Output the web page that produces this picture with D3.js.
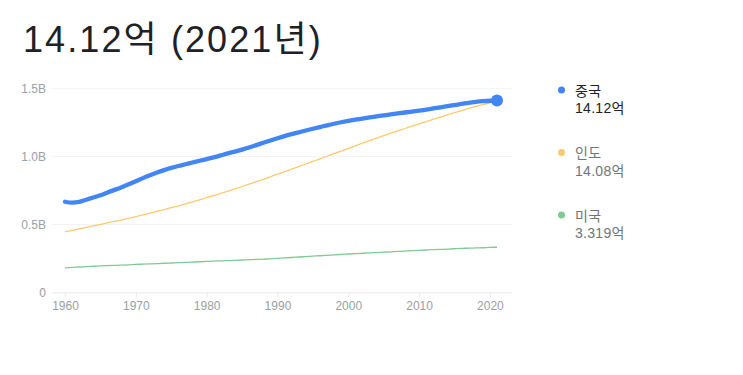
<!DOCTYPE html>
<html><head><meta charset="utf-8">
<script src="https://cdn.jsdelivr.net/npm/d3@7"></script>
<style>
body{margin:0;background:#fff;}
svg{display:block;font-family:Arial,"Liberation Sans","Noto Sans CJK KR",sans-serif;}
</style></head>
<body><svg id="c" width="743" height="375"></svg>
<script>
const years = d3.range(1960, 2022);
const china = [667.07,660.33,665.77,682.34,698.36,715.19,735.40,754.55,774.51,796.03,818.32,841.11,862.03,881.94,900.35,916.40,930.69,943.46,956.17,969.01,981.24,993.89,1008.63,1023.31,1036.83,1051.04,1066.79,1084.04,1101.63,1118.65,1135.19,1150.78,1164.97,1178.44,1191.84,1204.86,1217.55,1230.08,1241.94,1252.74,1262.65,1271.85,1280.40,1288.40,1296.08,1303.72,1311.02,1317.89,1324.66,1331.26,1337.71,1345.04,1354.19,1363.24,1371.86,1379.86,1387.79,1396.22,1402.76,1407.75,1411.10,1412.36];
const india = [445.95,456.35,467.02,477.93,489.06,500.11,510.99,521.99,533.43,545.31,557.50,569.99,582.84,596.11,609.72,623.52,637.45,651.69,666.27,681.25,696.83,712.87,729.17,745.72,762.51,779.48,797.00,814.80,832.70,851.20,870.45,888.94,907.57,926.35,945.26,964.28,983.28,1002.34,1021.43,1040.50,1059.63,1078.97,1098.31,1117.42,1136.26,1154.64,1172.37,1189.69,1206.73,1223.64,1240.61,1257.62,1274.49,1291.13,1307.25,1322.87,1338.64,1354.20,1369.00,1383.11,1396.39,1407.56];
const usa = [180.67,183.69,186.54,189.24,191.89,194.30,196.56,198.71,200.71,202.68,205.05,207.66,209.90,211.91,213.85,215.97,218.04,220.24,222.59,225.06,227.23,229.47,231.66,233.79,235.82,237.92,240.13,242.29,244.50,246.82,249.62,252.98,256.51,259.92,263.13,266.28,269.39,272.66,275.85,279.04,282.16,284.97,287.63,290.11,292.81,295.52,298.38,301.23,304.09,306.77,309.33,311.58,313.88,316.06,318.39,320.74,323.07,325.12,326.84,328.33,331.50,331.89];
const seriesNames = ["중국","인도","미국"];
const seriesLabels = ["14.12억","14.08억","3.319억"];
const colors = ["#4285f4","#fcc96f","#81c995"];
const yTicks = [0, 500, 1000, 1500];
const yTickLabels = ["0","0.5B","1.0B","1.5B"];
const xTicks = [1960,1970,1980,1990,2000,2010,2020];
const title = "14.12억 (2021년)";

const svg = d3.select("#c");
const x = d3.scaleLinear().domain([1960, 2021]).range([65, 497]);
const y = d3.scaleLinear().domain([0, 1500]).range([292.3, 88.7]);

svg.append("text").attr("x", 23).attr("y", 52).attr("font-size", 36).attr("letter-spacing", 2.1)
  .attr("fill", "#202124").text(title);

// grid
svg.append("g").selectAll("line").data(yTicks.slice(1)).join("line")
  .attr("x1", 52).attr("x2", 512).attr("y1", d => y(d)).attr("y2", d => y(d))
  .attr("stroke", "#f1f3f4").attr("stroke-width", 1);
svg.append("g").selectAll("text").data(yTicks).join("text")
  .attr("x", 46).attr("y", d => y(d)).attr("dy", "0.35em").attr("text-anchor", "end")
  .attr("font-size", 12).attr("fill", "#9aa0a6").text((d, i) => yTickLabels[i]);

// x axis
const xa = svg.append("g").attr("transform", `translate(0,${y(0)})`)
  .call(d3.axisBottom(x).tickValues(xTicks).tickFormat(d3.format("d")).tickSize(5).tickPadding(4));
xa.select(".domain").attr("stroke", "#e8eaed").attr("d", `M52,0.5H512`);
xa.selectAll(".tick line").attr("stroke", "#e8eaed");
xa.selectAll(".tick text").attr("fill", "#9aa0a6").attr("font-size", 12).attr("font-family", "Arial,'Liberation Sans',sans-serif");

const line = d3.line().x((d, i) => x(years[i])).y(d => y(d)).curve(d3.curveMonotoneX);
svg.append("path").datum(usa).attr("d", line).attr("fill", "none").attr("stroke", colors[2]).attr("stroke-width", 1.3);
svg.append("path").datum(india).attr("d", line).attr("fill", "none").attr("stroke", colors[1]).attr("stroke-width", 1.3);
svg.append("path").datum(china).attr("d", line).attr("fill", "none").attr("stroke", colors[0]).attr("stroke-width", 4.3).attr("stroke-linecap", "round").attr("stroke-linejoin", "round");
svg.append("circle").attr("cx", x(2021)).attr("cy", y(china[china.length - 1])).attr("r", 6).attr("fill", colors[0]);

// legend
const ly = [90, 152.5, 215];
const lg = svg.append("g").selectAll("g").data(seriesNames).join("g")
  .attr("transform", (d, i) => `translate(0,${ly[i]})`);
lg.append("circle").attr("cx", 561.5).attr("cy", 0).attr("r", 3.5).attr("fill", (d, i) => colors[i]);
lg.append("text").attr("x", 575).attr("y", 0.5).attr("dy", "0.36em").attr("font-size", 14).attr("letter-spacing", 0.3)
  .attr("fill", (d, i) => i === 0 ? "#202124" : "#70757a").text(d => d);
lg.append("text").attr("x", 575).attr("y", 18).attr("dy", "0.36em").attr("font-size", 14).attr("letter-spacing", 0.3)
  .attr("fill", (d, i) => i === 0 ? "#202124" : "#70757a").text((d, i) => seriesLabels[i]);
</script></body></html>
